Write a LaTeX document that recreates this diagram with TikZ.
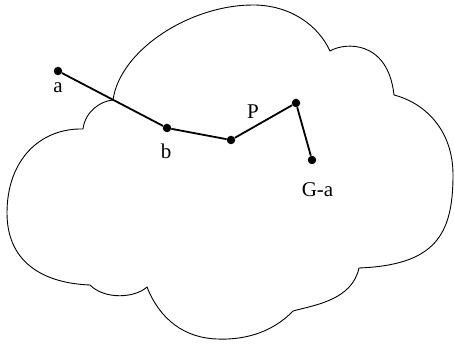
\documentclass[tikz,border=0pt]{standalone}
\usepackage{fontspec}
\setmainfont{Liberation Serif}
\begin{document}
\begin{tikzpicture}[x=1pt,y=-1pt,
  dot/.style={circle,fill=black,inner sep=0pt,minimum size=8.5pt},
  lbl/.style={font=\fontsize{21}{25}\selectfont,inner sep=0pt,anchor=base},
  cloudline/.style={line width=0.9pt},
  pathline/.style={line width=1.8pt}]
\useasboundingbox (0,0) rectangle (454,344);
% cloud outline
\draw[cloudline] (83,129)
  .. controls (85,112) and (100,101) .. (113,100)
  .. controls (120,50) and (190,5) .. (253,5)
  .. controls (290,5) and (318,25) .. (330,51)
  .. controls (345,42) and (388,40) .. (394,95)
  .. controls (425,103) and (453,130) .. (453,175)
  .. controls (453,235) and (435,265) .. (359,268)
  .. controls (352,300) and (315,305) .. (293,311)
  .. controls (270,335) and (240,340) .. (217,339)
  .. controls (185,338) and (160,320) .. (147,287)
  .. controls (135,298) and (105,300) .. (90,285)
  .. controls (40,283) and (7,260) .. (7,213)
  .. controls (7,160) and (40,128) .. (83,129);
% points
\node[dot] (a) at (58,71) {};
\node[dot] (b) at (167,128) {};
\node[dot] (c) at (231,140) {};
\node[dot] (d) at (296,103) {};
\node[dot] (e) at (312,160) {};
\draw[pathline] (a) -- (b) -- (c) -- (d) -- (e);
% labels
\node[lbl] (la) at (58,92.3) {a};
\node[lbl] (lb) at (166,158.3) {b};
\node[lbl] (lp) at (253,118.3) {P};
\node[lbl] (le) at (317.5,196.5) {G-a};
\end{tikzpicture}
\end{document}
